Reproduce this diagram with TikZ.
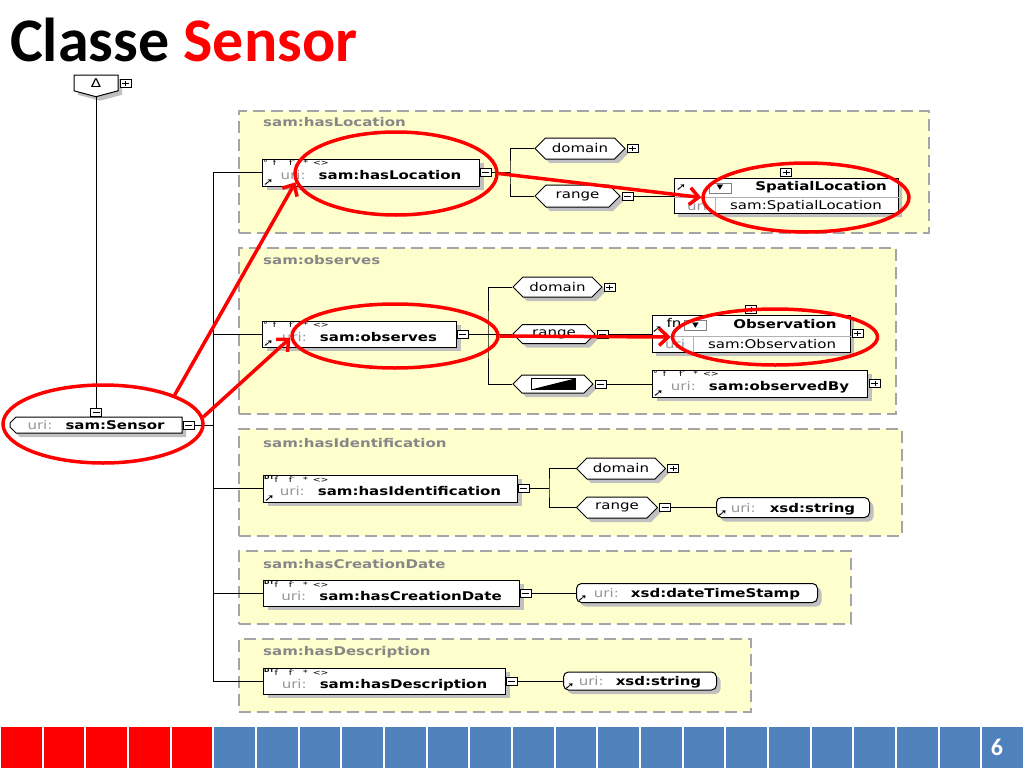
\documentclass[tikz,border=0pt]{standalone}
\usepackage{fontspec}
\setmainfont[FakeStretch=1.25]{DejaVu Sans}
\newfontfamily\ttlfont{Carlito}
\usetikzlibrary{positioning,shapes.misc,shapes.symbols,shapes.geometric,shadows,arrows.meta}

\definecolor{grpfill}{RGB}{255,255,206}
\definecolor{grpline}{RGB}{165,165,165}
\definecolor{urigray}{RGB}{150,150,150}
\definecolor{lblgray}{RGB}{135,135,135}
\definecolor{shadegray}{RGB}{192,192,192}
\definecolor{barblue}{RGB}{79,129,189}
\definecolor{hlred}{RGB}{255,0,0}

\newcommand{\urilabel}[1][38pt]{\makebox[#1][l]{\mdseries\color{urigray}uri:}}

\tikzset{
  shadowed/.style={drop shadow={shadow xshift=4pt, shadow yshift=-4pt, fill=shadegray, opacity=1}},
  grp/.style={draw=grpline, fill=grpfill, line width=1.5pt, dash pattern=on 12pt off 6pt, anchor=north west, inner sep=0pt},
  grplabel/.style={anchor=west, inner sep=0pt, text=lblgray, font=\bfseries},
  elem/.style={draw, fill=white, line width=1pt, anchor=west, inner sep=0pt, text height=14pt, text depth=0pt, font=\bfseries, shadowed},
  valbox/.style={elem, rounded corners=5pt, text height=9pt},
  clsbox/.style={shape=chamfered rectangle, chamfered rectangle corners={north west,south west}, chamfered rectangle xsep=5pt, chamfered rectangle ysep=5pt, draw, fill=white, line width=1pt, inner sep=0pt, shadowed},
  hexa/.style={shape=signal, signal to=west and east, draw, fill=white, line width=1pt, inner sep=0pt, shadowed},
  basebox/.style={shape=signal, signal to=south, signal pointer angle=150, draw, fill=white, line width=1pt, inner sep=0pt, minimum width=44pt, minimum height=17pt, shadowed},
  pm/.style={draw, fill=white, line width=0.8pt, minimum width=11pt, minimum height=8pt, inner sep=0pt},
  minusbox/.style={pm, path picture={\draw[line width=0.8pt] ([xshift=2pt]path picture bounding box.west) -- ([xshift=-2pt]path picture bounding box.east);}},
  plusbox/.style={pm, path picture={\draw[line width=0.8pt] ([xshift=2pt]path picture bounding box.west) -- ([xshift=-2pt]path picture bounding box.east) ([yshift=-1.5pt]path picture bounding box.north) -- ([yshift=1.5pt]path picture bounding box.south);}},
  ddbox/.style={draw=gray, fill=white, minimum width=22pt, minimum height=10pt, inner sep=0pt, font=\fontsize{7}{7}\selectfont},
  divider/.style={draw=gray!60, line width=0.8pt},
  icons/.style={anchor=north west, inner sep=1pt, font=\fontsize{7.5}{7.5}\selectfont},
  cornerarr/.style={anchor=south west, inner sep=1pt, font=\bfseries\fontsize{10}{10}\selectfont},
  urilbl/.style={text=urigray, font=\mdseries},
  tree/.style={line width=1pt},
  hl/.style={ellipse, draw=hlred, line width=3.5pt, inner sep=0pt},
  hlarrow/.style={draw=hlred, line width=3.5pt, -{Straight Barb[length=9pt,width=17pt]}},
}

\begin{document}
\fontsize{12}{14}\selectfont
\begin{tikzpicture}[x=1pt,y=-1pt]
\useasboundingbox (0,0) rectangle (1024,768);

% title and slide bar
\node[anchor=base west, inner sep=0pt, font=\ttlfont\bfseries\fontsize{62}{70}\selectfont] (title) at (10,62) {Classe \textcolor{hlred}{Sensor}};
\foreach \i in {0,...,4} \fill[hlred] (\i*42.667+1,727) rectangle ++(40.667,41);
\foreach \i in {5,...,23} \fill[barblue] (\i*42.667+1,727) rectangle ++(40.667,41);
\node[text=white, font=\ttlfont\bfseries\fontsize{24}{24}\selectfont] (pgnum) at (997,747) {6};

% property groups
\node[grp, minimum width=690pt, minimum height=122pt] (gloc) at (238,110) {};
\node[grp, minimum width=657pt, minimum height=166pt] (gobs) at (238,247) {};
\node[grp, minimum width=663pt, minimum height=107pt] (gid) at (238,428) {};
\node[grp, minimum width=612pt, minimum height=73pt] (gcr) at (238,550) {};
\node[grp, minimum width=512pt, minimum height=73pt] (gde) at (238,638) {};
\node[grplabel] (gloc-l) at (263,122) {sam:hasLocation};
\node[grplabel] (gobs-l) at (263,260.5) {sam:observes};
\node[grplabel] (gid-l) at (263,443) {sam:hasIdentification};
\node[grplabel] (gcr-l) at (263,564) {sam:hasCreationDate};
\node[grplabel] (gde-l) at (263,652) {sam:hasDescription};

% class sensor
\node[basebox] (base) at (96,83) {Δ};
\node[plusbox, right=1pt of base] (basep) {};
\node[clsbox, minimum width=172pt, minimum height=16pt, chamfered rectangle xsep=3pt, chamfered rectangle ysep=3pt, font=\bfseries] (sen) at (96,425) {\urilabel sam:Sensor};
\node[minusbox, above=0pt of sen] (sent) {};
\node[minusbox, right=0pt of sen] (senm) {};

% properties
\node[elem, minimum width=217pt, minimum height=27pt] (loc) at (262,172.5) {\urilabel sam:hasLocation};
\node[elem, minimum width=194pt, minimum height=26pt] (obs) at (262,334) {\urilabel sam:observes};
\node[elem, minimum width=254pt, minimum height=27pt] (ident) at (263,488.5) {\urilabel sam:hasIdentification};
\node[elem, minimum width=256pt, minimum height=26pt] (creat) at (263,593) {\urilabel sam:hasCreationDate};
\node[elem, minimum width=242pt, minimum height=26pt] (desc) at (263,681) {\urilabel sam:hasDescription};
\node[elem, minimum width=215pt, minimum height=27pt] (obsby) at (652,383.5) {\urilabel sam:observedBy};
\foreach \n in {loc,obs,ident,creat,desc} \node[minusbox, right=0pt of \n] (\n m) {};
\node[plusbox, right=1pt of obsby] (obsbyp) {};
\foreach \n in {loc,obs,obsby} \node[icons] (\n-ic) at (\n.north west) {°\hspace{5pt}f\hspace{13pt}f\textsuperscript{-}\hspace{8pt}*\hspace{5pt}<>};
\foreach \n in {ident,creat,desc} \node[icons] (\n-ic) at (\n.north west) {\textsuperscript{\bfseries DT}f\hspace{11pt}f\textsuperscript{-}\hspace{8pt}*\hspace{5pt}<>};

% domain / range
\node[hexa, minimum width=90pt, minimum height=21pt] (ldom) at (580,148.5) {domain};
\node[hexa, minimum width=85pt, minimum height=22pt] (lran) at (577.5,196) {range};
\node[hexa, minimum width=89pt, minimum height=20pt] (odom) at (557.5,287) {domain};
\node[hexa, minimum width=82pt, minimum height=19pt] (oran) at (554,334) {range};
\node[hexa, minimum width=80pt, minimum height=18pt, path picture={
  \draw[line width=0.8pt] ([shift={(-22pt,-5.5pt)}]path picture bounding box.center) rectangle ([shift={(22pt,5.5pt)}]path picture bounding box.center);
  \fill[black] ([shift={(-22pt,-5.5pt)}]path picture bounding box.center) -- ([shift={(22pt,5.5pt)}]path picture bounding box.center) -- ([shift={(22pt,-5.5pt)}]path picture bounding box.center) -- cycle;}] (owdg) at (553,384) {};
\node[hexa, minimum width=89pt, minimum height=21pt] (idom) at (621,468.5) {domain};
\node[hexa, minimum width=81pt, minimum height=21pt] (iran) at (617,507.5) {range};
\node[plusbox, right=1pt of ldom] (ldomp) {};
\node[minusbox, right=1pt of lran] (lranm) {};
\node[plusbox, right=1pt of odom] (odomp) {};
\node[minusbox, right=1pt of oran] (oranm) {};
\node[minusbox, right=1pt of owdg] (owdgm) {};
\node[plusbox, right=1pt of idom] (idomp) {};
\node[minusbox, right=1pt of iran] (iranm) {};

% classes
\node[clsbox, minimum width=224pt, minimum height=35pt] (sl) at (786,195.5) {};
\node[plusbox, above=1pt of sl] (slp) {};
\draw[divider] ([yshift=-1.5pt]sl.west) -- ([yshift=-1.5pt]sl.east);
\draw[divider] ([xshift=-71pt,yshift=-1.5pt]sl.center) -- ([xshift=-71pt]sl.south);
\node[ddbox] (sldd) at (720,188) {▼};
\node[font=\bfseries] (slname) at (821,187) {SpatialLocation};
\node[urilbl] (sluri) at (697,206) {uri};
\node (slid) at (806,206) {sam:SpatialLocation};
\node[cornerarr, anchor=center] (slar) at (681,188) {➚};

\node[clsbox, minimum width=198pt, minimum height=37pt] (ob) at (751,333.5) {};
\node[plusbox, above=1pt of ob] (obp) {};
\node[plusbox, right=1pt of ob] (obq) {};
\draw[divider] ([yshift=-2.5pt]ob.west) -- ([yshift=-2.5pt]ob.east);
\draw[divider] ([xshift=-58pt,yshift=-2.5pt]ob.center) -- ([xshift=-58pt]ob.south);
\node (obfn) at (674,323) {fn};
\node[ddbox] (obdd) at (695.5,325.5) {▼};
\node[font=\bfseries] (obname) at (785,324) {Observation};
\node[urilbl] (oburi) at (675,344) {uri};
\node (obid) at (772,344) {sam:Observation};
\node[cornerarr, anchor=center] (obar) at (657,330) {➚};

% values
\node[valbox, minimum width=153pt, minimum height=20pt] (istr) at (716,507.5) {\urilabel[39pt]xsd:string};
\node[valbox, minimum width=241pt, minimum height=19pt] (cstr) at (576,593) {\urilabel[37pt]xsd:dateTimeStamp};
\node[valbox, minimum width=153pt, minimum height=18pt] (dstr) at (563,681) {\urilabel[37pt]xsd:string};
\foreach \n in {loc,obs,obsby,ident,istr,cstr,dstr} \node[cornerarr] (\n-ar) at (\n.south west) {➚};

% tree lines
\coordinate (trtop) at (213,172.5);
\coordinate (trbot) at (213,681);
\coordinate (lbr) at (510,172.5);
\coordinate (obr) at (488,334);
\coordinate (ibr) at (549,488.5);
\draw[tree] (base.south) -- (sent.north);
\draw[tree] (trtop) -- (trbot);
\draw[tree] (senm.east) -- (senm.east -| trtop);
\foreach \n in {loc,obs,ident,creat,desc} \draw[tree] (\n.west) -- (\n.west -| trtop);
\draw[tree] (locm.east) -- (lbr);
\draw[tree] (ldom.west) -| (lbr) |- (lran.west);
\draw[tree] (lranm.east) -- (lranm.east -| sl.west);
\draw[tree] (obsm.east) -- (obr);
\draw[tree] (odom.west) -| (obr) |- (owdg.west);
\draw[tree] (obr) -- (oran.west);
\draw[tree] (oranm.east) -- (oranm.east -| ob.west);
\draw[tree] (owdgm.east) -- (owdgm.east -| obsby.west);
\draw[tree] (identm.east) -- (ibr);
\draw[tree] (idom.west) -| (ibr) |- (iran.west);
\draw[tree] (iranm.east) -- (iranm.east -| istr.west);
\draw[tree] (creatm.east) -- (creatm.east -| cstr.west);
\draw[tree] (descm.east) -- (descm.east -| dstr.west);

% highlights
\node[hl, minimum width=200pt, minimum height=78pt] (senE) at (103,424) {};
\node[hl, minimum width=202pt, minimum height=83pt] (locE) at (396,173.5) {};
\node[hl, minimum width=206pt, minimum height=69pt] (slE) at (806,197.5) {};
\node[hl, minimum width=206pt, minimum height=64pt] (obsE) at (395,336) {};
\node[hl, minimum width=205pt, minimum height=56pt] (obE) at (775,337) {};
\draw[hlarrow] (senE.22) -- (locE.185);
\draw[hlarrow] (senE.4) -- (obsE.181);
\draw[hlarrow] (locE.east) -- (slE.west);
\draw[hlarrow] (obsE.east) -- (obE.west);
\end{tikzpicture}
\end{document}
